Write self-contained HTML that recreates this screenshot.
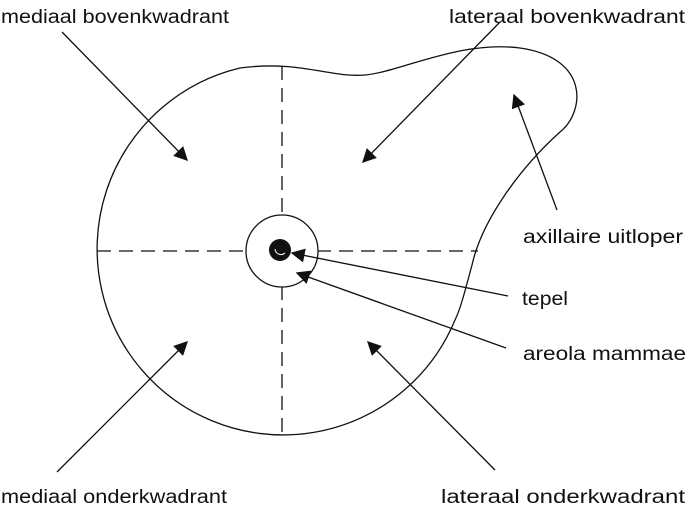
<!DOCTYPE html>
<html><head><meta charset="utf-8"><style>
html,body{margin:0;padding:0;background:#fff;}
svg{display:block;}
text{font-family:"Liberation Sans",sans-serif;font-size:19px;fill:#111;}
</style></head><body>
<svg width="690" height="512" viewBox="0 0 690 512">
<defs><marker id="ahb" viewBox="0 0 10 10" refX="9" refY="5" markerWidth="16" markerHeight="14" markerUnits="userSpaceOnUse" orient="auto"><path d="M0,0 L10,5 L0,10 z" fill="#111"/></marker></defs>
<path d="M240 68 C300 60 330 78 365 75 C400 72 460 40 520 48 C590 58 585 112 560 132 C520 168 482 220 472 265 C464 295 460 310 455 320 A186 186 0 1 1 240 68 Z" fill="none" stroke="#111" stroke-width="1.3"/>
<line x1="282" y1="66" x2="282" y2="437" stroke="#111" stroke-width="1.3" stroke-dasharray="14,8"/>
<line x1="97" y1="251" x2="478" y2="251" stroke="#111" stroke-width="1.3" stroke-dasharray="14,8"/>
<circle cx="282" cy="251" r="36" fill="#fff" stroke="#111" stroke-width="1.3"/>
<circle cx="280" cy="250" r="11" fill="#111"/>
<path d="M275 249 a6 6 0 0 0 10 4" fill="none" stroke="#fff" stroke-width="1"/>
<g stroke="#111" stroke-width="1.3" marker-end="url(#ahb)">
<line x1="62" y1="32" x2="187" y2="160"/>
<line x1="500" y1="22" x2="363" y2="162"/>
<line x1="557" y1="210" x2="514" y2="95"/>
<line x1="508" y1="296" x2="292" y2="253"/>
<line x1="506" y1="348" x2="297" y2="273"/>
<line x1="57" y1="472" x2="187" y2="342"/>
<line x1="495" y1="470" x2="368" y2="342"/>
</g>
<text x="1" y="23" textLength="228" lengthAdjust="spacingAndGlyphs">mediaal bovenkwadrant</text>
<text x="449" y="23" textLength="236" lengthAdjust="spacingAndGlyphs">lateraal bovenkwadrant</text>
<text x="523" y="243" textLength="160" lengthAdjust="spacingAndGlyphs">axillaire uitloper</text>
<text x="522" y="305" textLength="46" lengthAdjust="spacingAndGlyphs">tepel</text>
<text x="523" y="360" textLength="163" lengthAdjust="spacingAndGlyphs">areola mammae</text>
<text x="1" y="503" textLength="226" lengthAdjust="spacingAndGlyphs">mediaal onderkwadrant</text>
<text x="441" y="503" textLength="244" lengthAdjust="spacingAndGlyphs">lateraal onderkwadrant</text>
</svg>
</body></html>
